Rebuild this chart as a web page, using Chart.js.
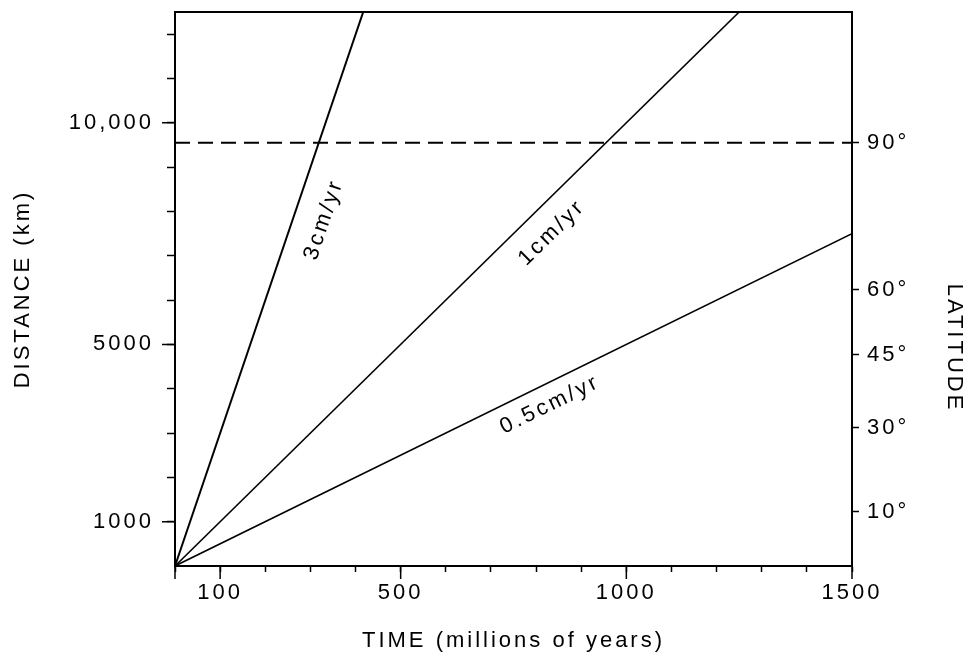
<!DOCTYPE html>
<html>
<head>
<meta charset="utf-8">
<script src="https://cdn.jsdelivr.net/npm/chart.js@4.4.1/dist/chart.umd.min.js"></script>
<style>
  body { margin: 0; background: #fff; }
  canvas { display: block; }
</style>
</head>
<body>
<canvas id="myChart" width="973" height="664"></canvas>
<script>
// time in millions of years, distance in km
const timeTicks = [0, 100, 200, 300, 400, 500, 600, 700, 800, 900, 1000, 1100, 1200, 1300, 1400, 1500];
const timeLabels = [100, 500, 1000, 1500];
const distanceTicks = [1000, 2000, 3000, 4000, 5000, 6000, 7000, 8000, 9000, 10000, 11000, 12000];
const distanceLabelValues = [1000, 5000, 10000];
const distanceLabelText = ["1000", "5000", "10,000"];

// right axis: latitude ticks and the distance they sit at
const latitudeLabels = ["10°", "30°", "45°", "60°", "90°"];
const latitudeDistance = [1230, 3120, 4770, 6240, 9550];

// rate lines (start, end)
const rate3 = [{ x: 0, y: 0 }, { x: 417, y: 12500 }];
const rate1 = [{ x: 0, y: 0 }, { x: 1250, y: 12500 }];
const rateHalf = [{ x: 0, y: 0 }, { x: 1500, y: 7500 }];
const pole = [{ x: 0, y: 9550 }, { x: 1500, y: 9550 }];

const rateNames = ["3cm/yr", "1cm/yr", "0.5cm/yr"];
const rateLabelTime = [330, 835, 831];
const rateLabelDistance = [7820, 7520, 3640];

const fontFamily = "'Liberation Sans', Arial, sans-serif";
const spacing = "3px";
Chart.defaults.font.family = fontFamily;
Chart.defaults.font.size = 22;
Chart.defaults.color = "#000";

const frame = {
    id: "frame",
    beforeDraw(chart) {
        chart.ctx.letterSpacing = spacing;
    },
    afterDatasetsDraw(chart) {
        const { ctx, chartArea, scales } = chart;
        ctx.save();
        ctx.strokeStyle = "#000";
        ctx.lineWidth = 2;
        ctx.beginPath();
        ctx.moveTo(chartArea.left, chartArea.top);
        ctx.lineTo(chartArea.right, chartArea.top);
        ctx.stroke();

        // longer marks on the labelled ticks
        ctx.lineWidth = 1.5;
        ctx.beginPath();
        [0, ...timeLabels].forEach(v => {
            const px = scales.x.getPixelForValue(v);
            ctx.moveTo(px, chartArea.bottom);
            ctx.lineTo(px, chartArea.bottom + 13);
        });
        distanceLabelValues.forEach(v => {
            const py = scales.y.getPixelForValue(v);
            ctx.moveTo(chartArea.left - 13, py);
            ctx.lineTo(chartArea.left, py);
        });
        ctx.stroke();

        // labels along the rate lines
        ctx.fillStyle = "#000";
        ctx.font = "22px " + fontFamily;
        ctx.letterSpacing = spacing;
        ctx.textAlign = "center";
        ctx.textBaseline = "middle";
        rateNames.forEach((name, i) => {
            const pts = chart.data.datasets[i].data;
            const x0 = scales.x.getPixelForValue(pts[0].x);
            const y0 = scales.y.getPixelForValue(pts[0].y);
            const x1 = scales.x.getPixelForValue(pts[1].x);
            const y1 = scales.y.getPixelForValue(pts[1].y);
            const angle = Math.atan2(y1 - y0, x1 - x0);
            ctx.save();
            ctx.translate(scales.x.getPixelForValue(rateLabelTime[i]), scales.y.getPixelForValue(rateLabelDistance[i]));
            ctx.rotate(angle);
            ctx.fillText(name, 0, 0);
            ctx.restore();
        });

        // right axis title
        ctx.save();
        ctx.translate(954, 348);
        ctx.rotate(Math.PI / 2);
        ctx.fillText("LATITUDE", 0, 0);
        ctx.restore();
        ctx.restore();
    }
};

// keep the plot box at a fixed place
function fixVertical(width) {
    return scale => {
        scale.width = width;
        scale.paddingTop = 12;
        scale.paddingBottom = 0;
    };
}

const lineStyle = { borderColor: "#000", pointRadius: 0, fill: false, tension: 0 };

new Chart(document.getElementById("myChart"), {
    type: "line",
    data: {
        datasets: [
            { ...lineStyle, label: rateNames[0], data: rate3, borderWidth: 2 },
            { ...lineStyle, label: rateNames[1], data: rate1, borderWidth: 1.6 },
            { ...lineStyle, label: rateNames[2], data: rateHalf, borderWidth: 1.6 },
            { ...lineStyle, label: "90°", data: pole, borderWidth: 2, borderDash: [15, 8] }
        ]
    },
    options: {
        responsive: false,
        animation: false,
        devicePixelRatio: 1,
        layout: { padding: 0 },
        plugins: { legend: { display: false }, tooltip: { enabled: false } },
        scales: {
            x: {
                type: "linear",
                min: 0,
                max: 1500,
                afterBuildTicks: scale => { scale.ticks = timeTicks.map(v => ({ value: v })); },
                afterFit: scale => { scale.height = 98; },
                ticks: {
                    autoSkip: false,
                    maxRotation: 0,
                    padding: 8,
                    callback: v => timeLabels.includes(v) ? String(v) : ""
                },
                grid: { drawOnChartArea: false, tickLength: 6, tickColor: "#000", tickWidth: 1.5 },
                border: { color: "#000", width: 2 },
                title: {
                    display: true,
                    text: "TIME (millions of years)",
                    font: { size: 22 },
                    padding: { top: 0, bottom: 10 }
                }
            },
            y: {
                type: "linear",
                position: "left",
                min: 0,
                max: 12500,
                afterBuildTicks: scale => { scale.ticks = distanceTicks.map(v => ({ value: v })); },
                afterFit: fixVertical(175),
                ticks: {
                    autoSkip: false,
                    padding: 13,
                    callback: v => {
                        const i = distanceLabelValues.indexOf(v);
                        return i >= 0 ? distanceLabelText[i] : "";
                    }
                },
                grid: { drawOnChartArea: false, tickLength: 8, tickColor: "#000", tickWidth: 1.5 },
                border: { color: "#000", width: 2 },
                title: {
                    display: true,
                    text: "DISTANCE (km)",
                    font: { size: 22 },
                    padding: { top: 10, bottom: 0 }
                }
            },
            y2: {
                type: "linear",
                position: "right",
                min: 0,
                max: 12500,
                afterBuildTicks: scale => { scale.ticks = latitudeDistance.map(v => ({ value: v })); },
                afterFit: fixVertical(121),
                ticks: {
                    autoSkip: false,
                    padding: 8,
                    callback: (v, i) => latitudeLabels[i]
                },
                grid: { drawOnChartArea: false, tickLength: 7, tickColor: "#000", tickWidth: 1.5 },
                border: { color: "#000", width: 2 }
            }
        }
    },
    plugins: [frame]
});
</script>
</body>
</html>
